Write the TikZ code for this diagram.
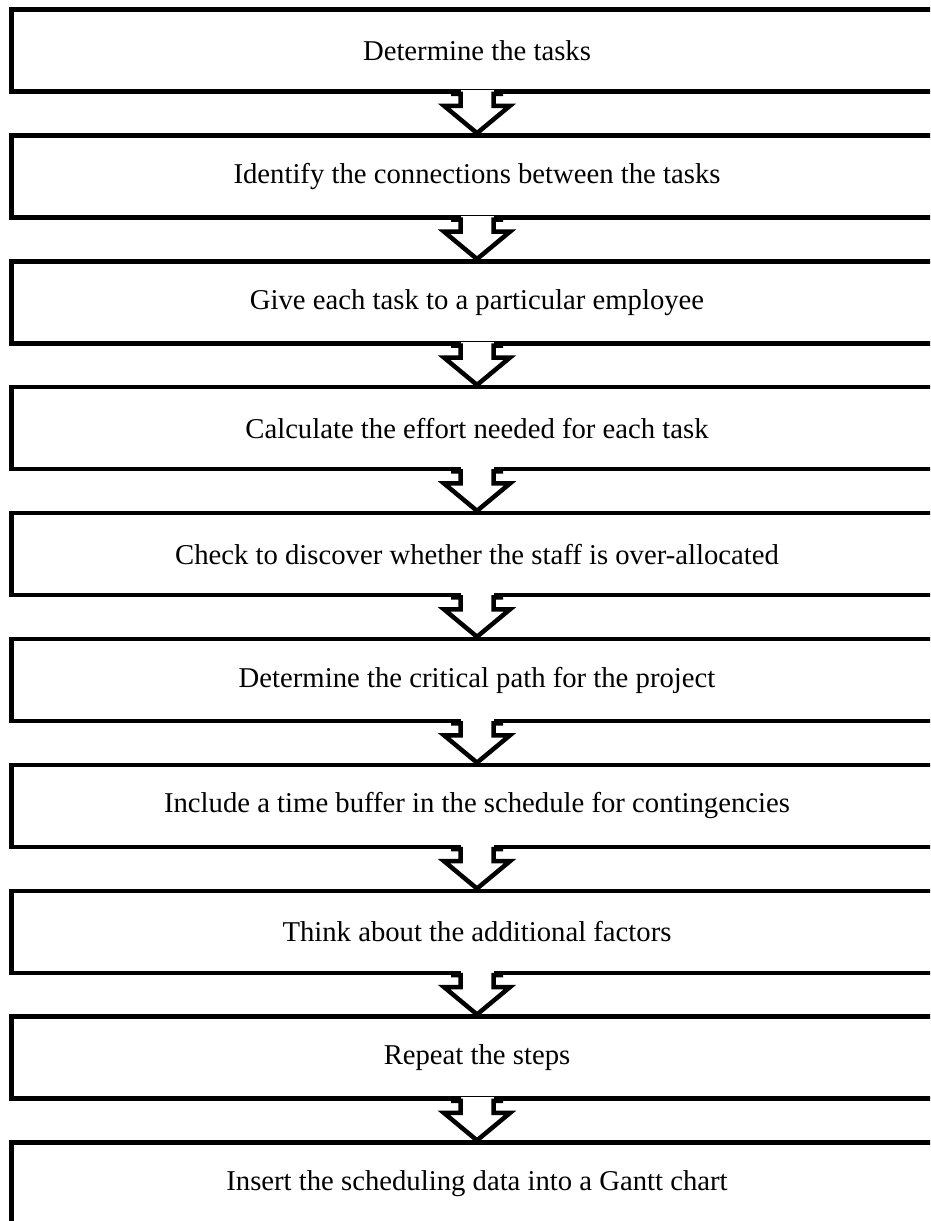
\documentclass[tikz,border=0pt]{standalone}
\usepackage{fontspec}
\setmainfont{Liberation Serif}
\usetikzlibrary{calc}
\begin{document}
\begin{tikzpicture}[x=1pt,y=1pt,
  stepbox/.style={draw=black, line width=4.5pt, fill=white, rectangle,
    minimum width=931pt, minimum height=82pt, inner sep=0pt,
    font=\fontsize{28.7}{34}\selectfont},
  flowline/.style={draw=black, line width=4.5pt, miter limit=10}]
\useasboundingbox (0,0) rectangle (930,-1221);
\clip (0,0) rectangle (930,-1221);
\def\pitch{125.9}
\foreach \t [count=\i from 0] in {
  Determine the tasks,
  Identify the connections between the tasks,
  Give each task to a particular employee,
  Calculate the effort needed for each task,
  Check to discover whether the staff is over-allocated,
  Determine the critical path for the project,
  Include a time buffer in the schedule for contingencies,
  Think about the additional factors,
  Repeat the steps,
  Insert the scheduling data into a Gantt chart}
{
  \pgfmathsetmacro{\yc}{-(9.5+41+\pitch*\i)}
  \node[stepbox] (s\i) at (477,\yc) {\t};
}
\foreach \i in {0,...,8}{
  \pgfmathtruncatemacro{\j}{\i+1}
  \fill[white] ($(s\i.south)+(-16.5,4)$) rectangle ($(s\i.south)+(16.5,-12)$);
  \draw[flowline] ($(s\i.south)+(-26,0)$) -- ($(s\i.south)+(-16.5,0)$)
    -- ($(s\i.south)+(-16.5,-12)$) -- ($(s\i.south)+(-33,-12)$)
    -- (s\j.north)
    -- ($(s\i.south)+(33,-12)$) -- ($(s\i.south)+(16.5,-12)$)
    -- ($(s\i.south)+(16.5,0)$) -- ($(s\i.south)+(26,0)$);
}
\end{tikzpicture}
\end{document}
